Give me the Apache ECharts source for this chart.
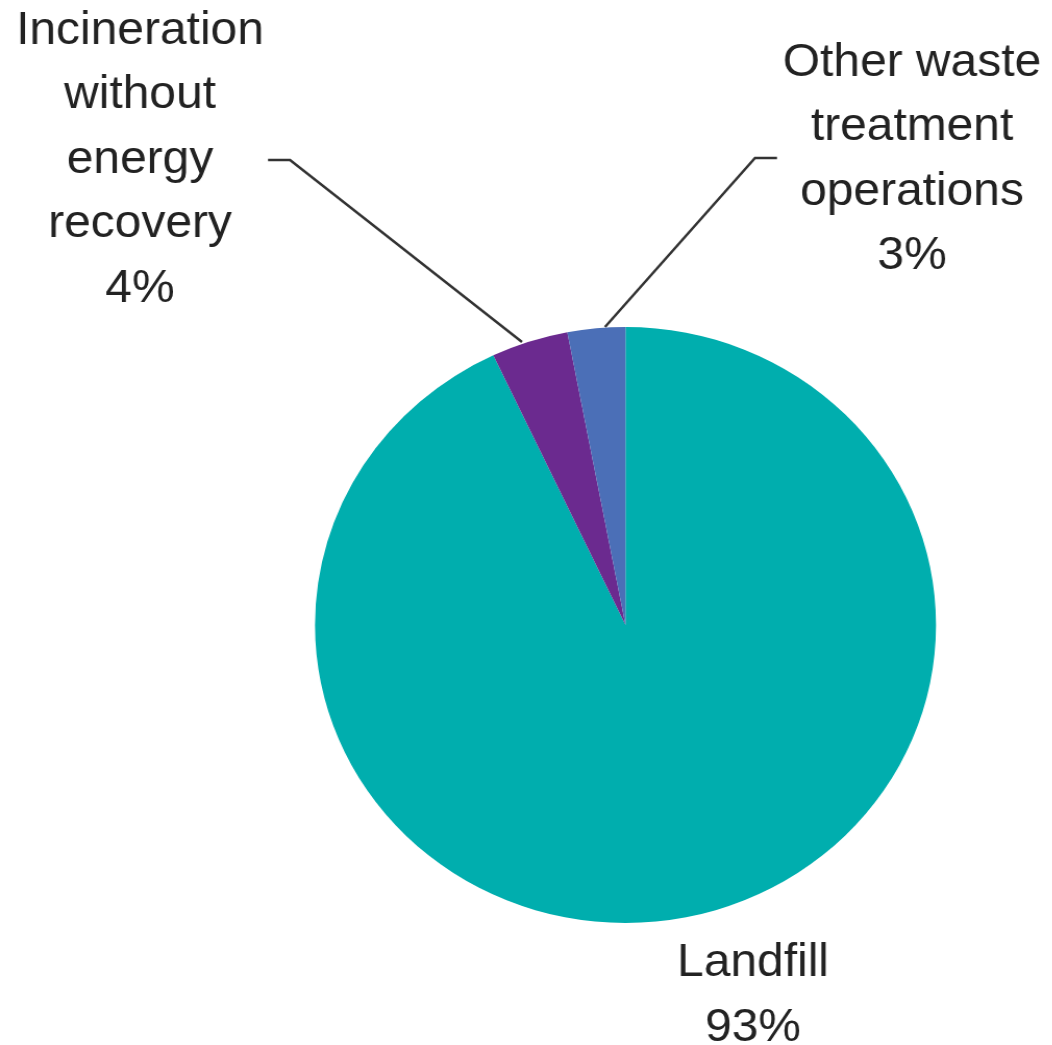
<!DOCTYPE html>
<html>
<head>
<meta charset="utf-8">
<script src="https://cdn.jsdelivr.net/npm/echarts@6/dist/echarts.min.js"></script>
<style>
html,body{margin:0;padding:0;background:#fff;overflow:hidden;}
#wrap{width:1052px;height:1045px;overflow:hidden;}
#chart{height:1045px;transform-origin:0 0;}
</style>
</head>
<body>
<div id="wrap"><div id="chart"></div></div>
<script>
// Data
const categories = ['Landfill', 'Incineration\nwithout\nenergy\nrecovery', 'Other waste\ntreatment\noperations'];
const values = [93, 4, 3];
const colors = ['#00AEAE', '#6B2A8F', '#4B6FB7'];

// The reference pie is slightly wider than tall: draw it in a narrower box and stretch horizontally.
const stretchX = 310.5 / 298;
const chartDiv = document.getElementById('chart');
chartDiv.style.width = (1052 / stretchX) + 'px';
chartDiv.style.transform = 'scaleX(' + stretchX + ')';
const sx = v => v / stretchX; // screen x -> chart x

// Label placement (annotation positions, screen pixels)
const labelPlacement = [
  { x: 753, y: 996, line: null },
  { x: 140, y: 160, line: [[522, 342], [290, 160], [268, 160]] },
  { x: 912, y: 160, line: [[605, 327], [755, 158], [777, 158]] }
];

const chart = echarts.init(chartDiv, null, { renderer: 'canvas' });

const data = categories.map((name, i) => ({
  name: name,
  value: values[i],
  itemStyle: { color: colors[i] },
  labelLine: { show: labelPlacement[i].line !== null }
}));

chart.setOption({
  animation: false,
  backgroundColor: '#ffffff',
  series: [{
    type: 'pie',
    center: [sx(625.5), 625],
    radius: 298,
    startAngle: 90,
    clockwise: true,
    avoidLabelOverlap: false,
    percentPrecision: 0,
    data: data,
    itemStyle: { borderWidth: 0 },
    emphasis: { disabled: true },
    label: {
      show: true,
      position: 'outside',
      formatter: '{b}\n{d}%',
      fontFamily: '"Liberation Sans", Arial, sans-serif',
      fontSize: 46,
      lineHeight: 64.5,
      color: '#222222',
      align: 'center'
    },
    labelLine: {
      show: true,
      lineStyle: { color: '#333333', width: 2.5 }
    },
    labelLayout: function (params) {
      const p = labelPlacement[params.dataIndex];
      const res = { x: sx(p.x), y: p.y, align: 'center', verticalAlign: 'middle' };
      if (p.line) res.labelLinePoints = p.line.map(pt => [sx(pt[0]), pt[1]]);
      return res;
    }
  }]
});
</script>
</body>
</html>
